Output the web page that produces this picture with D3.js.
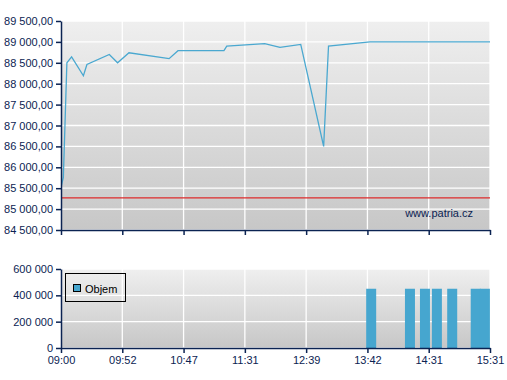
<!DOCTYPE html>
<html>
<head>
<meta charset="utf-8">
<script src="https://cdn.jsdelivr.net/npm/d3@7"></script>
<style>
body { margin: 0; background: white; }
text { font-family: "Liberation Sans", Arial, sans-serif; }
</style>
</head>
<body>
<div id="container"></div>
<script>
// tick labels on the time axis (evenly spaced in the picture)
let tickTimes = ["09:00","09:52","10:47","11:31","12:39","13:42","14:31","15:31"];

// price series
let priceTimes = ["09:00","09:02","09:05","09:09","09:19","09:22","09:41","09:48","09:58","10:34","10:42","11:16","11:18","11:53","12:10","12:33","12:57","13:02","13:44","15:31"];
let priceValues = [85520,85760,88500,88640,88190,88460,88700,88500,88740,88600,88790,88790,88900,88960,88870,88940,86500,88900,89000,89000];
let prevClose = 85270;

// volume series
let volTimes = ["13:45","14:16","14:28","14:39","14:54","15:17","15:26"];
let volValues = [450000,450000,450000,450000,450000,450000,450000];

let priceTicks = d3.range(84500, 89501, 500);
let volTicks = [0, 200000, 400000, 600000];

let navy = "#0b2352";
let lineBlue = "#4aa8d0";

function toMin(s){
    let p = s.split(":");
    return +p[0]*60 + +p[1];
}

let loc = d3.formatLocale({decimal: ",", thousands: "\u00a0", grouping: [3], currency: ["", ""]});
let fmtPrice = loc.format(",.2f");
let fmtVol = loc.format(",.0f");

let left = 61, right = 490;
let step = (right-left)/(tickTimes.length-1);

let x = d3.scaleLinear()
    .domain(tickTimes.map(toMin))
    .range(tickTimes.map((d,i) => left + i*step));

let viz = d3.select("#container").append("svg")
    .attr("width", 507)
    .attr("height", 380)

let defs = viz.append("defs");
let grad = defs.append("linearGradient")
    .attr("id", "bg")
    .attr("x1", 0).attr("y1", 0).attr("x2", 0).attr("y2", 1)
grad.append("stop").attr("offset", "0%").attr("stop-color", "#efefef")
grad.append("stop").attr("offset", "100%").attr("stop-color", "#c7c7c7")

// ---------- price chart ----------
let yTop = 21, yBot = 230;
let y = d3.scaleLinear().domain([84500, 89500]).range([yBot, yTop]);

defs.append("clipPath").attr("id", "clipTop")
    .append("rect").attr("x", left).attr("y", yTop).attr("width", right-left).attr("height", yBot-yTop)

viz.append("rect")
    .attr("x", left).attr("y", yTop)
    .attr("width", right-left).attr("height", yBot-yTop)
    .attr("fill", "url(#bg)")

let gridTop = viz.append("g")
gridTop.selectAll("h").data(priceTicks).enter().append("line")
    .attr("x1", left).attr("x2", right)
    .attr("y1", d => y(d)).attr("y2", d => y(d))
    .attr("stroke", "white").attr("stroke-width", 1.3)
gridTop.selectAll("v").data(tickTimes).enter().append("line")
    .attr("x1", d => x(toMin(d))).attr("x2", d => x(toMin(d)))
    .attr("y1", yTop).attr("y2", yBot)
    .attr("stroke", "white").attr("stroke-width", 1.3)

viz.append("line")
    .attr("x1", left).attr("x2", right)
    .attr("y1", y(prevClose)).attr("y2", y(prevClose))
    .attr("stroke", "#dd2a2a").attr("stroke-width", 1.3)

let priceData = priceTimes.map((t,i) => ({t: toMin(t), v: priceValues[i]}));
viz.append("path")
    .datum(priceData)
    .attr("clip-path", "url(#clipTop)")
    .attr("fill", "none")
    .attr("stroke", lineBlue)
    .attr("stroke-width", 1.3)
    .attr("d", d3.line().x(d => x(d.t)).y(d => y(d.v)))

viz.append("text")
    .attr("x", 473).attr("y", 217)
    .attr("text-anchor", "end")
    .attr("fill", navy)
    .attr("font-size", 11)
    .text("www.patria.cz")

let yAxisTop = viz.append("g")
    .attr("transform", "translate(" + left + ",0)")
    .call(d3.axisLeft(y).tickValues(priceTicks).tickFormat(fmtPrice).tickSize(5).tickSizeOuter(0).tickPadding(3))
let xAxisTop = viz.append("g")
    .attr("transform", "translate(0," + yBot + ")")
    .call(d3.axisBottom(x).tickValues(tickTimes.map(toMin)).tickFormat("").tickSize(5).tickSizeOuter(0))

// ---------- volume chart ----------
let vTop = 269, vBot = 348;
let yv = d3.scaleLinear().domain([0, 600000]).range([vBot, vTop]);

defs.append("clipPath").attr("id", "clipBot")
    .append("rect").attr("x", left).attr("y", vTop).attr("width", right-left).attr("height", vBot-vTop)

viz.append("rect")
    .attr("x", left).attr("y", vTop)
    .attr("width", right-left).attr("height", vBot-vTop)
    .attr("fill", "url(#bg)")

let gridBot = viz.append("g")
gridBot.selectAll("h").data(volTicks).enter().append("line")
    .attr("x1", left).attr("x2", right)
    .attr("y1", d => yv(d)).attr("y2", d => yv(d))
    .attr("stroke", "white").attr("stroke-width", 1.3)
gridBot.selectAll("v").data(tickTimes).enter().append("line")
    .attr("x1", d => x(toMin(d))).attr("x2", d => x(toMin(d)))
    .attr("y1", vTop).attr("y2", vBot)
    .attr("stroke", "white").attr("stroke-width", 1.3)

let barW = 10;
viz.append("g").attr("clip-path", "url(#clipBot)")
    .selectAll("rect").data(volTimes).enter().append("rect")
    .attr("x", d => x(toMin(d)) - barW/2)
    .attr("y", (d,i) => yv(volValues[i]))
    .attr("width", barW)
    .attr("height", (d,i) => vBot - yv(volValues[i]))
    .attr("fill", "#46a6cf")

// legend
let legend = viz.append("g")
legend.append("rect")
    .attr("x", 65.5).attr("y", 273.5).attr("width", 60).attr("height", 28)
    .attr("fill", "none").attr("stroke", "black")
legend.append("rect")
    .attr("x", 73.5).attr("y", 284.5).attr("width", 7).attr("height", 7)
    .attr("fill", "#46a6cf").attr("stroke", "black")
legend.append("text")
    .attr("x", 85).attr("y", 293)
    .attr("font-size", 11).attr("fill", "black")
    .text("Objem")

let yAxisBot = viz.append("g")
    .attr("transform", "translate(" + left + ",0)")
    .call(d3.axisLeft(yv).tickValues(volTicks).tickFormat(fmtVol).tickSize(5).tickSizeOuter(0).tickPadding(3))
let xAxisBot = viz.append("g")
    .attr("transform", "translate(0," + vBot + ")")
    .call(d3.axisBottom(x).tickValues(tickTimes.map(toMin)).tickFormat((d,i) => tickTimes[i]).tickSize(5).tickSizeOuter(0).tickPadding(3))

viz.selectAll(".domain, .tick line").attr("stroke", navy).attr("stroke-width", 1.5)
viz.selectAll(".tick text").attr("fill", navy).attr("font-size", 11).attr("font-family", "Liberation Sans, Arial, sans-serif")
</script>
</body>
</html>
